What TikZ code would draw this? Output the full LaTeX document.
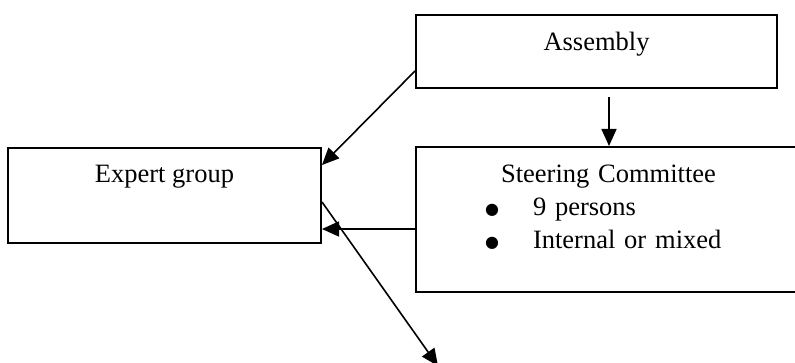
\documentclass[tikz,border=0pt]{standalone}
\usepackage{fontspec}
\setmainfont{Liberation Serif}
\newfontfamily\symfont{DejaVu Sans}
\usetikzlibrary{arrows.meta,positioning,calc}

\newcommand{\dotitem}{\hspace*{69pt}\makebox[48pt][l]{\raisebox{1pt}{\symfont\fontsize{16}{16}\selectfont ●}}}

\begin{document}
\begin{tikzpicture}[x=1pt,y=-1pt,
orgbox/.style={
% The shape:
rectangle,
% The border:
draw=black, line width=2pt,
% The text:
inner sep=0pt, font=\fontsize{26.5}{33}\selectfont,
anchor=north west
},
link/.style={
line width=1.6pt,
-{Triangle[length=17pt,width=15pt]}
}]

\useasboundingbox (0,0) rectangle (795,363);
\clip (0,0) rectangle (795,363);

\node (asm) [orgbox, minimum width=361pt, text height=36pt, text depth=37pt] at (415,14) {Assembly};
\node (exp) [orgbox, minimum width=313pt, text height=35pt, text depth=60pt] at (7,147) {Expert group};
\node (stc) [orgbox, text width=385pt, align=left, text height=36pt, text depth=109pt] at (415,146)
{\centering Steering Committee\par
\raggedright
\dotitem 9 persons\par
\dotitem Internal or mixed};

% free ends and bends
\coordinate (out) at (438,366);
\coordinate (asmdown) at ($(asm.south)+(12.5,8)$);
\coordinate (stcup) at (asmdown |- stc.north);
\coordinate (stcleft) at ($(stc.west)+(0,9.5)$);
\coordinate (expright) at (exp.east |- stcleft);
\coordinate (asmleft) at ($(asm.west)+(0,19.5)$);
\coordinate (exptop) at ($(exp.east)+(0,-30.5)$);
\coordinate (expout) at ($(exp.east)+(0,6.5)$);

\draw [link] (asmleft) -- (exptop);
\draw [link] (asmdown) -- (stcup);
\draw [link] (stcleft) -- (expright);
\draw [link] (expout) -- (out);
\end{tikzpicture}
\end{document}
